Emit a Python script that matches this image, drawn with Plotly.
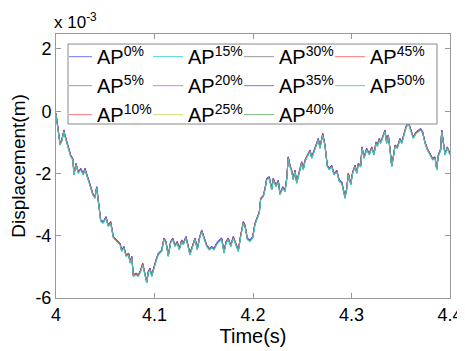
import plotly.graph_objects as go

# ---- data (displacement in units of 1e-3 m) ----
time_s = [
    4.0000, 4.0020, 4.0041, 4.0058, 4.0081, 4.0091, 4.0125, 4.0149, 4.0170, 4.0183,
    4.0203, 4.0226, 4.0251, 4.0277, 4.0294, 4.0312, 4.0338, 4.0373, 4.0396, 4.0413,
    4.0429, 4.0454, 4.0480, 4.0508, 4.0531, 4.0555, 4.0582, 4.0616, 4.0650, 4.0667,
    4.0690, 4.0711, 4.0738, 4.0751, 4.0769, 4.0785, 4.0812, 4.0836, 4.0860, 4.0880,
    4.0901, 4.0921, 4.0937, 4.0954, 4.0972, 4.0995, 4.1015, 4.1039, 4.1056, 4.1073,
    4.1096, 4.1117, 4.1140, 4.1164, 4.1185, 4.1208, 4.1231, 4.1252, 4.1276, 4.1292,
    4.1320, 4.1343, 4.1360, 4.1388, 4.1411, 4.1435, 4.1455, 4.1479, 4.1503, 4.1530,
    4.1556, 4.1581, 4.1604, 4.1631, 4.1658, 4.1682, 4.1706, 4.1726, 4.1749, 4.1774,
    4.1800, 4.1827, 4.1851, 4.1875, 4.1902, 4.1919, 4.1942, 4.1970, 4.1997, 4.2020,
    4.2044, 4.2064, 4.2078, 4.2105, 4.2122, 4.2139, 4.2165, 4.2190, 4.2206, 4.2234,
    4.2257, 4.2274, 4.2302, 4.2325, 4.2342, 4.2358, 4.2376, 4.2393, 4.2409, 4.2426,
    4.2444, 4.2470, 4.2494, 4.2511, 4.2528, 4.2561, 4.2579, 4.2596, 4.2619, 4.2647,
    4.2663, 4.2680, 4.2708, 4.2731, 4.2754, 4.2775, 4.2799, 4.2822, 4.2850, 4.2876,
    4.2901, 4.2934, 4.2951, 4.2968, 4.2992, 4.3012, 4.3036, 4.3053, 4.3069, 4.3093,
    4.3107, 4.3127, 4.3154, 4.3181, 4.3205, 4.3228, 4.3249, 4.3262, 4.3282, 4.3296,
    4.3317, 4.3340, 4.3357, 4.3374, 4.3391, 4.3408, 4.3424, 4.3442, 4.3465, 4.3492,
    4.3510, 4.3533, 4.3553, 4.3577, 4.3601, 4.3627, 4.3655, 4.3678, 4.3703, 4.3723,
    4.3746, 4.3770, 4.3797, 4.3824, 4.3848, 4.3865, 4.3881, 4.3906, 4.3916, 4.3932,
    4.3949, 4.3973, 4.4000,
]

base_disp = [
    -0.12, -0.55, -1.09, -0.98, -0.66, -0.82, -1.20, -1.46, -1.57, -2.05,
    -1.73, -2.00, -1.89, -2.05, -1.89, -2.10, -2.32, -2.69, -2.80, -2.48,
    -2.90, -3.55, -3.60, -3.44, -3.71, -3.60, -4.08, -4.19, -4.29, -4.51,
    -4.40, -4.67, -4.62, -4.88, -4.72, -5.31, -5.26, -5.31, -5.15, -4.94,
    -5.26, -5.52, -5.20, -5.10, -5.31, -5.04, -4.83, -4.62, -4.55, -4.51,
    -4.13, -4.24, -4.67, -4.24, -4.13, -4.35, -4.24, -4.46, -4.19, -4.29,
    -4.08, -4.46, -4.62, -4.35, -4.13, -4.46, -4.13, -3.87, -4.08, -4.35,
    -4.46, -4.40, -4.46, -4.29, -4.19, -4.13, -4.56, -4.24, -4.13, -4.35,
    -4.08, -4.29, -4.51, -4.03, -3.60, -3.71, -4.13, -4.19, -4.08, -3.65,
    -3.44, -3.28, -2.85, -2.75, -2.53, -2.21, -2.16, -2.53, -2.21, -2.43,
    -2.27, -2.69, -2.48, -2.59, -2.21, -1.52, -1.79, -1.95, -2.21, -1.95,
    -2.32, -2.00, -1.68, -1.89, -1.62, -1.41, -1.30, -1.52, -1.30, -1.09,
    -0.93, -1.20, -0.77, -1.14, -1.79, -1.89, -1.79, -2.05, -1.95, -2.27,
    -2.32, -2.80, -2.53, -2.05, -2.37, -2.00, -1.79, -2.00, -1.73, -1.79,
    -1.20, -1.52, -1.25, -1.41, -1.20, -1.41, -1.04, -1.14, -0.93, -1.04,
    -0.82, -0.66, -1.04, -0.82, -1.25, -1.79, -1.52, -1.14, -1.20, -0.93,
    -1.04, -0.72, -0.55, -0.39, -0.61, -0.88, -0.72, -0.66, -0.61, -0.72,
    -1.04, -1.25, -1.41, -1.57, -1.52, -1.89, -1.46, -1.25, -0.66, -1.04,
    -1.41, -1.20, -1.41,
]

series_names = ["0%", "5%", "10%", "15%", "20%", "25%", "30%", "35%", "40%", "45%", "50%"]
series_offsets = [0.05, 0.02, 0.04, 0.0, 0.05, 0.03, 0.02, 0.06, 0.03, 0.04, 0.0]
series_colors = ["#3c3cff", "#3c9a3c", "#ff4040", "#40d0d0", "#d040d0", "#cccc40",
                 "#707070", "#3c3cff", "#3c9a3c", "#ff4040", "#40d0d0"]
series_opacity = [0.7, 0.7, 0.7, 0.9, 0.7, 0.7, 0.7, 0.7, 0.7, 0.7, 0.9]

x_ticks = [4.0, 4.1, 4.2, 4.3, 4.4]
x_tick_labels = ["4", "4.1", "4.2", "4.3", "4.4"]
y_ticks = [-6, -4, -2, 0, 2]
y_tick_labels = ["-6", "-4", "-2", "0", "2"]

FONT = "Liberation Sans, Arial, sans-serif"

fig = go.Figure()
n_rows = 3
for i, (name, off, col, op) in enumerate(zip(series_names, series_offsets, series_colors, series_opacity)):
    col_idx, row_idx = divmod(i, n_rows)
    fig.add_trace(go.Scatter(
        x=time_s,
        y=[v + off for v in base_disp],
        mode="lines",
        line=dict(color=col, width=1),
        opacity=op,
        name="AP<sup>" + name + "</sup>",
        legendrank=row_idx * 10 + col_idx + 1,
    ))

axis_common = dict(
    showline=True, linecolor="#999999", linewidth=1, mirror="allticks",
    ticks="inside", ticklen=5, tickcolor="#999999", showgrid=False, zeroline=False,
    tickfont=dict(family=FONT, size=18, color="black"), automargin=False,
    ticklabeloverflow="allow",
)

# the page body has an 8px default margin; figure sized so the plot box lands where the reference has it
fig.update_layout(
    width=457, height=343,
    margin=dict(l=48, r=15, t=26, b=53),
    paper_bgcolor="white", plot_bgcolor="white",
    font=dict(family=FONT, color="black"),
    xaxis=dict(range=[4.0, 4.4], tickvals=x_ticks, ticktext=x_tick_labels,
               title=dict(text="Time(s)", font=dict(family=FONT, size=20), standoff=0),
               **axis_common),
    yaxis=dict(range=[-6, 2.48], tickvals=y_ticks, ticktext=y_tick_labels,
               title=dict(text="Displacement(m)", font=dict(family=FONT, size=19), standoff=6),
               **axis_common),
    legend=dict(
        orientation="h", x=0.033, y=0.988, xanchor="left", yanchor="top",
        bgcolor="rgba(0,0,0,0)", borderwidth=0,
        font=dict(family=FONT, size=20, color="black"),
        entrywidth=58, entrywidthmode="pixels", tracegroupgap=0,
        indentation=-12, itemwidth=30,
        traceorder="normal",
    ),
    shapes=[dict(
        type="rect", xref="paper", yref="paper",
        x0=0.0305, x1=0.967, y0=0.659, y1=0.962,
        fillcolor="white", line=dict(color="#888888", width=1), layer="above",
    )],
    showlegend=True,
    annotations=[dict(
        text="x 10<sup>-3</sup>", xref="paper", yref="paper", x=-0.01, y=1.0,
        xanchor="left", yanchor="bottom", showarrow=False,
        font=dict(family=FONT, size=17, color="black"),
    )],
)

fig.write_html("out.html")
